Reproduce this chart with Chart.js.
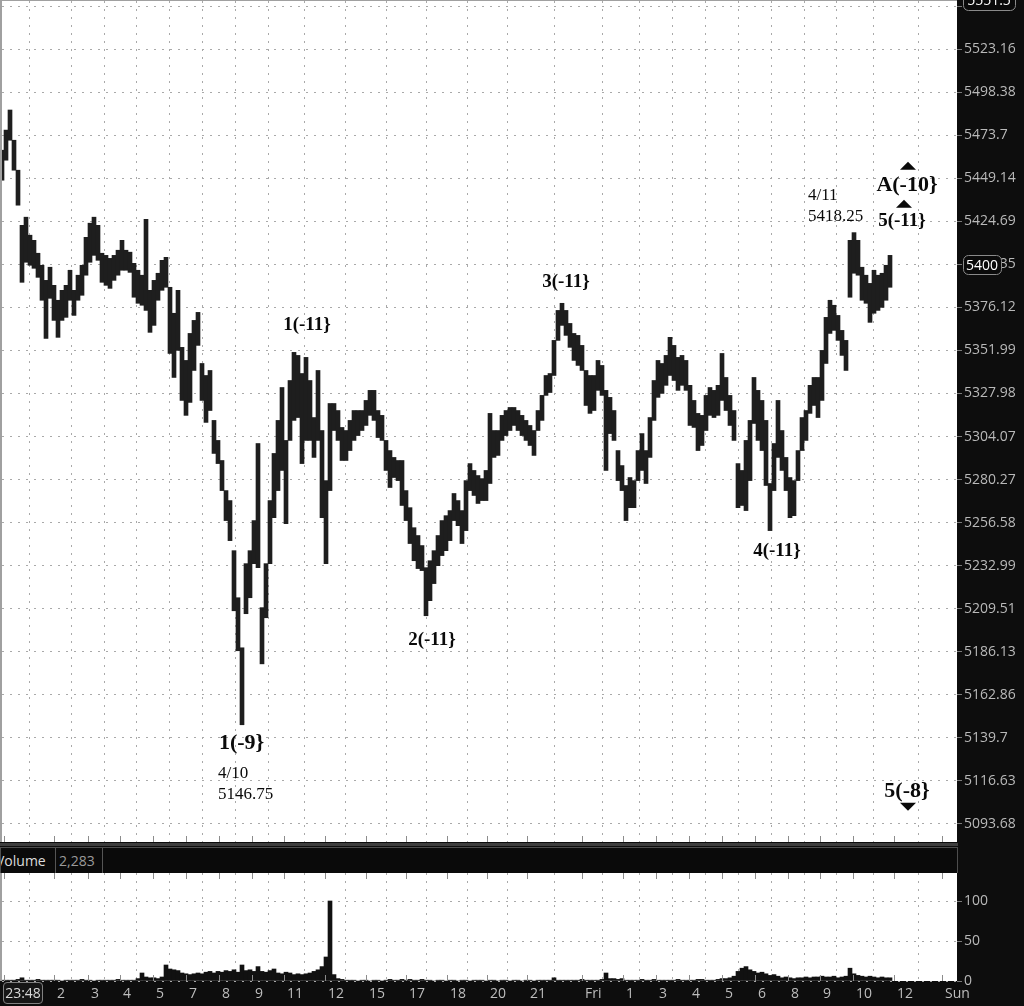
<!DOCTYPE html>
<html>
<head>
<meta charset="utf-8">
<script src="https://cdn.jsdelivr.net/npm/chart.js@4.4.1/dist/chart.umd.min.js"></script>
<style>
html,body{margin:0;padding:0;width:1024px;height:1006px;overflow:hidden;background:#0d0d0d;font-family:"Open Sans",sans-serif}
canvas{position:absolute;left:0}
#main{top:0}
#vol{top:873px}
#sep{position:absolute;left:0;top:843px;width:958px;height:3px;background:#3d3d3d}
#volbar{position:absolute;left:0;top:847px;width:956px;height:25px;background:#0a0a0a;border:1px solid #4d4d4d;overflow:hidden}
#volbar span{position:absolute;top:3px;font-size:14px}
#volbar i{position:absolute;top:0;width:1px;height:25px;background:#555}
#timebox{position:absolute;left:3px;top:982px;width:38px;height:20px;border:1px solid #808080;border-radius:4px;background:#161616;color:#d8d8d8;font-size:14px;line-height:20px;text-align:center}
</style>
</head>
<body>
<canvas id="main" width="1024" height="846"></canvas>
<div id="sep"></div>
<div id="volbar"><span style="left:-5px;color:#dcdcdc">Volume</span><i style="left:54px"></i><span style="left:58px;color:#9a9a9a">2,283</span><i style="left:101px"></i></div>
<canvas id="vol" width="1024" height="133"></canvas>
<div id="timebox">23:48</div>
<script>
// bar ranges, one bar per column of the compressed chart
const highs = [
  5465.1,5476.6,5488.1,5470.8,5453.7,5422.4,5427.0,5416.8,5413.9,5406.6,
  5399.8,5391.3,5398.7,5388.5,5380.1,5385.7,5388.5,5397.0,5385.7,5394.2,
  5399.8,5415.6,5423.6,5427.0,5422.4,5406.6,5405.4,5403.7,5405.4,5408.3,
  5413.9,5408.3,5407.2,5400.9,5397.0,5394.2,5425.8,5385.7,5391.3,5395.3,
  5402.6,5404.3,5387.4,5372.8,5385.7,5353.7,5346.4,5361.5,5368.8,5373.3,
  5344.7,5338.0,5340.8,5313.0,5301.9,5290.8,5274.2,5268.7,5241.2,5215.5,
  5188.3,5234.1,5241.2,5257.7,5300.2,5210.1,5234.1,5268.7,5294.7,5313.0,
  5331.3,5301.9,5335.2,5350.9,5349.2,5339.1,5348.1,5335.2,5314.6,5340.8,
  5307.4,5279.7,5322.4,5322.4,5318.5,5309.1,5307.4,5313.0,5318.5,5318.5,
  5318.5,5324.1,5329.7,5329.7,5318.5,5315.8,5301.9,5296.3,5292.5,5290.8,
  5290.8,5274.2,5264.8,5253.8,5249.5,5244.0,5231.9,5235.7,5241.2,5249.5,
  5257.7,5260.4,5263.2,5272.6,5268.7,5263.2,5279.7,5289.1,5285.3,5282.5,
  5280.8,5285.3,5316.9,5307.4,5307.4,5315.8,5318.5,5320.2,5320.2,5318.5,
  5315.8,5313.0,5310.2,5307.4,5318.5,5326.9,5338.0,5339.1,5357.6,5374.4,
  5378.4,5374.4,5367.1,5361.5,5360.4,5354.8,5340.8,5338.0,5338.0,5346.4,
  5343.6,5329.7,5325.8,5318.5,5296.3,5288.0,5277.0,5281.4,5279.7,5296.3,
  5305.7,5296.3,5314.6,5335.2,5346.4,5344.7,5349.2,5359.3,5354.8,5348.1,
  5349.2,5346.4,5332.5,5324.1,5316.9,5315.8,5326.9,5331.3,5329.7,5332.5,
  5350.3,5336.9,5326.9,5318.5,5289.1,5285.3,5301.9,5313.0,5336.9,5329.7,
  5324.1,5313.0,5278.1,5300.2,5324.1,5307.4,5292.5,5281.4,5279.7,5296.3,
  5314.6,5318.5,5332.5,5336.9,5336.9,5352.0,5370.5,5380.1,5377.3,5371.6,
  5363.2,5357.6,5413.9,5418.25,5413.9,5398.7,5394.2,5389.6,5397.0,5394.2,
  5395.3,5399.8,5405.4
];
const lows = [
  5448.0,5459.4,5470.8,5453.7,5433.8,5390.2,5401.5,5399.8,5398.1,5393.0,
  5380.1,5358.7,5381.2,5368.8,5359.3,5368.8,5370.5,5380.1,5371.6,5380.1,
  5382.9,5394.2,5401.5,5405.4,5402.6,5390.2,5388.5,5386.8,5391.3,5394.2,
  5397.0,5397.0,5395.8,5381.8,5378.4,5377.3,5374.4,5362.1,5366.0,5380.1,
  5385.7,5387.4,5350.3,5336.9,5352.0,5324.1,5315.8,5323.0,5340.8,5354.8,
  5324.1,5311.9,5318.5,5294.7,5289.1,5274.2,5257.7,5246.7,5208.4,5186.7,
  5146.75,5206.8,5215.5,5234.1,5231.9,5179.6,5204.6,5234.1,5259.3,5274.2,
  5285.3,5256.0,5301.9,5313.0,5314.6,5289.1,5301.9,5301.9,5292.5,5301.9,
  5259.3,5234.1,5274.2,5307.4,5301.9,5290.8,5290.8,5296.3,5301.9,5304.6,
  5307.4,5310.2,5315.8,5313.0,5303.5,5301.9,5285.3,5275.9,5281.4,5279.7,
  5266.0,5257.7,5245.1,5235.7,5231.4,5230.3,5205.7,5213.9,5223.2,5233.0,
  5238.5,5241.2,5246.7,5257.7,5254.9,5245.1,5252.2,5274.2,5271.5,5267.1,
  5268.7,5268.7,5278.1,5292.5,5293.6,5301.9,5304.6,5307.4,5310.2,5307.4,
  5304.6,5301.9,5299.1,5293.6,5307.4,5313.0,5326.9,5328.5,5338.0,5357.6,
  5366.0,5360.4,5353.7,5346.4,5343.6,5340.8,5321.3,5316.9,5318.5,5329.7,
  5326.9,5285.3,5305.7,5301.9,5279.7,5274.2,5257.7,5264.8,5264.8,5279.7,
  5285.3,5278.1,5292.5,5313.0,5325.8,5328.0,5332.5,5338.0,5335.2,5329.7,
  5332.5,5329.7,5310.2,5309.1,5296.3,5299.1,5307.4,5315.8,5314.6,5315.8,
  5324.1,5318.5,5310.2,5301.9,5264.8,5266.0,5263.2,5279.7,5311.3,5301.9,
  5296.3,5277.0,5252.2,5274.2,5292.5,5285.3,5274.2,5259.3,5260.4,5279.7,
  5296.3,5301.9,5316.9,5321.3,5314.6,5324.1,5344.7,5361.5,5363.2,5357.6,
  5349.2,5340.8,5381.8,5395.3,5394.2,5380.1,5378.4,5367.7,5372.8,5374.4,
  5376.1,5380.1,5387.4
];
const volumes = [
  1,1,1,1,2,4,1,1,1,2,1,1,1,
  1,1,0,1,1,1,1,2,1,1,0,1,1,1,1,1,2,1,1,1,1,
  3,10,5,4,4,3,5,20,15,14,13,
  10,9,8,9,10,9,11,12,
  10,12,11,13,12,14,11,20,13,14,12,18,12,11,13,15,
  10,9,11,10,8,9,8,9,10,12,14,18,30,100,8,3,
  2,1,1,1,0,1,1,0,1,1,0,1,
  2,1,1,2,1,2,1,1,2,1,
  1,0,1,1,0,1,1,0,1,1,0,1,1,1,0,1,1,0,1,1,0,1,1,0,1,1,0,1,
  1,1,1,4,1,1,1,1,1,1,2,1,1,1,1,2,
  10,3,3,2,3,
  1,1,1,1,2,1,1,2,1,1,1,1,1,2,1,1,1,1,2,2,1,1,1,2,3,
  3,4,6,12,16,18,14,12,10,11,9,7,8,6,4,5,
  4,3,4,4,5,4,5,5,6,5,5,6,4,5,6,
  16,9,7,6,5,6,5,4,5,4,4
];
const lastPrice = 5400;
const topPrice = 5551.5;

// axis ticks
const priceTicks = [5548.05,5523.16,5498.38,5473.7,5449.14,5424.69,5400.35,5376.12,5351.99,5327.98,
  5304.07,5280.27,5256.58,5232.99,5209.51,5186.13,5162.86,5139.7,5116.63,5093.68];
const priceTickLabels = ['5548.05','5523.16','5498.38','5473.7','5449.14','5424.69','5400.35','5376.12','5351.99','5327.98',
  '5304.07','5280.27','5256.58','5232.99','5209.51','5186.13','5162.86','5139.7','5116.63','5093.68'];
const priceMin = 5084.1, priceMax = 5550.95;
const volTicks = [0, 50, 100];
const volMax = 135;
const timeTickAt = [0.5,13,21.5,29.5,37.75,46,54.25,62.5,70.5,80.75,91,101,111.25,121.25,131.25,145,
  155.25,163.5,171.75,180,188.25,196.5,204.5,212.75,223,235];
const timeTickLabels = ['','2','3','4','5','7','8','9','11','12','15','17','18','20','21','Fri',
  '1','3','4','5','6','8','9','10','12','Sun'];
const barSlots = 238.75;

// wave labels
const notes = [
  {t:'1(-9}', i:59.9, p:5137.0, f:'bold 22px', a:'center'},
  {t:'4/10', i:54, p:5120.4, f:'17px', a:'left'},
  {t:'5146.75', i:54, p:5109.2, f:'17px', a:'left'},
  {t:'1(-11}', i:76.25, p:5366.0, f:'bold 19px', a:'center'},
  {t:'2(-11}', i:107.5, p:5192.7, f:'bold 19px', a:'center'},
  {t:'3(-11}', i:141, p:5390.2, f:'bold 19px', a:'center'},
  {t:'4(-11}', i:193.75, p:5241.2, f:'bold 19px', a:'center'},
  {t:'4/11', i:201.5, p:5439.5, f:'17px', a:'left'},
  {t:'5418.25', i:201.5, p:5427.5, f:'17px', a:'left'},
  {t:'A(-10}', i:226.25, p:5445.2, f:'bold 22px', a:'center'},
  {t:'5(-11}', i:225, p:5424.7, f:'bold 19px', a:'center'},
  {t:'5(-8}', i:226.25, p:5111.3, f:'bold 22px', a:'center'}
];
const arrows = [
  {i:226.5, p:5456.3, up:true},
  {i:225.5, p:5434.6, up:true},
  {i:226.5, p:5102.8, up:false}
];

Chart.defaults.font.family = '"Open Sans", sans-serif';
Chart.defaults.animation = false;

const background = {
  id: 'background',
  beforeDraw(chart) {
    const {ctx, chartArea: a, width, height} = chart;
    ctx.save();
    ctx.fillStyle = '#0d0d0d';
    ctx.fillRect(0, 0, width, height);
    ctx.fillStyle = '#ffffff';
    ctx.fillRect(a.left, a.top, a.right - a.left, a.bottom - a.top);
    ctx.restore();
  }
};

function tickMarks(chart, atTop) {
  const {ctx, chartArea: a} = chart;
  const xs = chart.scales.x;
  ctx.save();
  ctx.strokeStyle = '#8c8c8c';
  ctx.lineWidth = 1;
  ctx.beginPath();
  timeTickAt.forEach(v => {
    const x = Math.round(xs.getPixelForValue(v)) + 0.5;
    ctx.moveTo(x, a.bottom - 6); ctx.lineTo(x, a.bottom);
    if (atTop) { ctx.moveTo(x, a.top); ctx.lineTo(x, a.top + 6); }
  });
  ctx.stroke();
  ctx.restore();
}

function bubble(ctx, x, y, w, h, txt) {
  ctx.save();
  ctx.beginPath();
  ctx.roundRect(x + 0.5, Math.round(y - h / 2) + 0.5, w, h, 5);
  ctx.fillStyle = '#0a0a0a';
  ctx.fill();
  ctx.strokeStyle = '#8a8a8a';
  ctx.stroke();
  ctx.fillStyle = '#ffffff';
  ctx.font = '14px "Open Sans"';
  ctx.textAlign = 'center';
  ctx.textBaseline = 'middle';
  ctx.fillText(txt, x + w / 2, y + 1);
  ctx.restore();
}

const overlay = {
  id: 'overlay',
  afterDraw(chart) {
    const {ctx, chartArea: a} = chart;
    const xs = chart.scales.x, ys = chart.scales.y;
    tickMarks(chart, false);
    ctx.save();
    ctx.fillStyle = '#a0a0a0';
    ctx.fillRect(0, 0, 2, a.bottom);
    ctx.fillRect(0, 0, a.right, 1);
    ctx.fillStyle = '#0a0a0a';
    ctx.textBaseline = 'middle';
    notes.forEach(n => {
      ctx.font = n.f + ' "Liberation Serif", "Times New Roman", serif';
      ctx.textAlign = n.a;
      ctx.fillText(n.t, xs.getPixelForValue(n.i), ys.getPixelForValue(n.p));
    });
    arrows.forEach(m => {
      const x = xs.getPixelForValue(m.i), y = ys.getPixelForValue(m.p);
      ctx.beginPath();
      if (m.up) { ctx.moveTo(x - 8, y + 4); ctx.lineTo(x + 8, y + 4); ctx.lineTo(x, y - 4); }
      else { ctx.moveTo(x - 8, y - 4); ctx.lineTo(x + 8, y - 4); ctx.lineTo(x, y + 4); }
      ctx.closePath();
      ctx.fill();
    });
    ctx.restore();
    bubble(ctx, a.right + 6, ys.getPixelForValue(lastPrice), 38, 19, String(lastPrice));
    bubble(ctx, a.right + 6, ys.getPixelForValue(topPrice), 52, 19, String(topPrice));
  }
};

const volOverlay = {
  id: 'volOverlay',
  afterDraw(chart) {
    tickMarks(chart, true);
    const {ctx, chartArea: a} = chart;
    ctx.save();
    ctx.fillStyle = '#a0a0a0';
    ctx.fillRect(0, a.top, 2, a.bottom - a.top);
    ctx.restore();
  }
};

const gridX = {color: '#a9a9a9', drawTicks: false};
const dotted = {display: false, dash: [2, 6]};

new Chart(document.getElementById('main'), {
  type: 'bar',
  data: {
    datasets: [{
      data: highs.map((h, i) => ({x: i, y: [lows[i], h]})),
      backgroundColor: '#1e1e1e',
      barThickness: 4,
      grouped: false
    }]
  },
  options: {
    responsive: false,
    layout: {padding: {top: 1, left: 2, right: 0, bottom: 0}},
    plugins: {legend: {display: false}, tooltip: {enabled: false}},
    scales: {
      x: {
        type: 'linear', min: 0, max: barSlots, offset: false,
        afterBuildTicks: s => { s.ticks = timeTickAt.map(v => ({value: v})); },
        ticks: {display: false},
        grid: gridX,
        border: dotted,
        afterFit: s => { s.height = 4; s.paddingLeft = 0; s.paddingRight = 0; }
      },
      y: {
        type: 'logarithmic', position: 'right', min: priceMin, max: priceMax,
        afterBuildTicks: s => { s.ticks = priceTicks.map(v => ({value: v})); },
        ticks: {
          autoSkip: false, color: '#b9b9b9', font: {size: 14}, padding: 2,
          callback: (v, i) => priceTickLabels[i]
        },
        grid: {color: '#a9a9a9', tickColor: '#7a7a7a', tickLength: 5, tickBorderDash: []},
        border: dotted,
        afterFit: s => { s.width = 67; s.paddingTop = 0; s.paddingBottom = 0; }
      }
    }
  },
  plugins: [background, overlay]
});

new Chart(document.getElementById('vol'), {
  type: 'bar',
  data: {
    datasets: [{
      data: volumes.map((v, i) => ({x: i, y: v})),
      backgroundColor: '#111111',
      barThickness: 4,
      grouped: false
    }]
  },
  options: {
    responsive: false,
    layout: {padding: {top: 0, left: 2, right: 0, bottom: 0}},
    plugins: {legend: {display: false}, tooltip: {enabled: false}},
    scales: {
      x: {
        type: 'linear', min: 0, max: barSlots, offset: false,
        afterBuildTicks: s => { s.ticks = timeTickAt.map(v => ({value: v})); },
        ticks: {
          autoSkip: false, maxRotation: 0, align: 'start', labelOffset: 3, padding: 5,
          color: '#bdbdbd', font: {size: 14},
          callback: (v, i) => timeTickLabels[i]
        },
        grid: gridX,
        border: dotted,
        afterFit: s => { s.height = 25; s.paddingLeft = 0; s.paddingRight = 0; }
      },
      y: {
        type: 'linear', position: 'right', min: 0, max: volMax,
        afterBuildTicks: s => { s.ticks = volTicks.map(v => ({value: v})); },
        ticks: {autoSkip: false, color: '#b9b9b9', font: {size: 14}, padding: 2},
        grid: {color: '#a9a9a9', tickColor: '#7a7a7a', tickLength: 5, tickBorderDash: []},
        border: dotted,
        afterFit: s => { s.width = 67; s.paddingTop = 0; s.paddingBottom = 0; }
      }
    }
  },
  plugins: [background, volOverlay]
});
</script>
</body>
</html>
